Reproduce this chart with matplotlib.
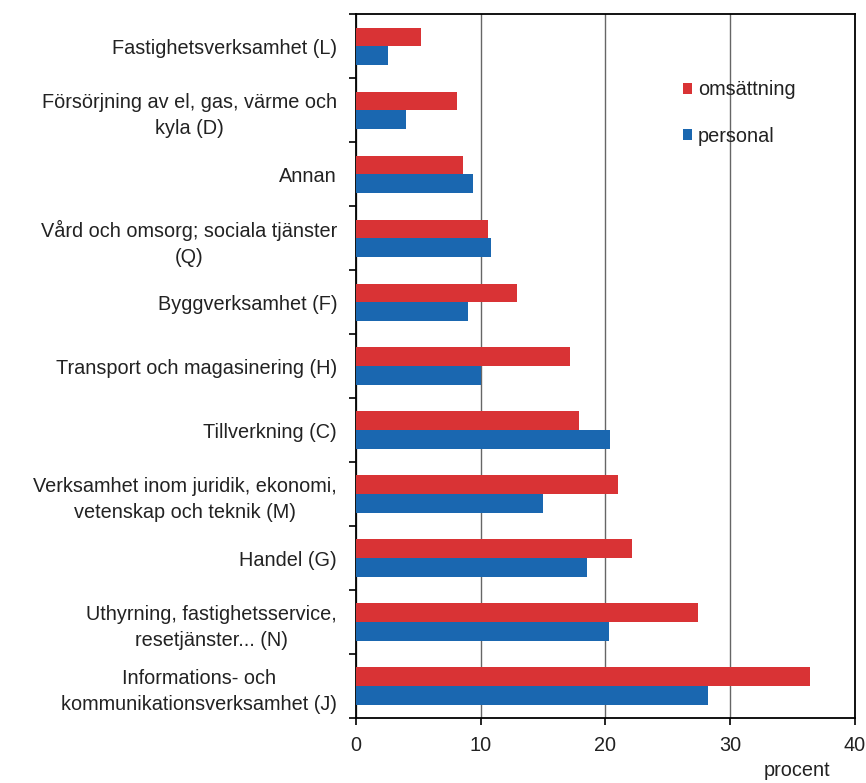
import matplotlib
matplotlib.use("Agg")
import matplotlib.pyplot as plt
import numpy as np

plt.rcParams['font.family'] = ['Liberation Sans', 'DejaVu Sans']

categories = [
    "Fastighetsverksamhet (L)",
    "Försörjning av el, gas, värme och\nkyla (D)",
    "Annan",
    "Vård och omsorg; sociala tjänster\n(Q)",
    "Byggverksamhet (F)",
    "Transport och magasinering (H)",
    "Tillverkning (C)",
    "Verksamhet inom juridik, ekonomi,\nvetenskap och teknik (M)",
    "Handel (G)",
    "Uthyrning, fastighetsservice,\nresetjänster... (N)",
    "Informations- och\nkommunikationsverksamhet (J)",
]
omsattning = [5.2, 8.1, 8.6, 10.6, 12.9, 17.2, 17.9, 21.0, 22.1, 27.4, 36.4]
personal = [2.6, 4.0, 9.4, 10.8, 9.0, 10.0, 20.4, 15.0, 18.5, 20.3, 28.2]
series_names = ["omsättning", "personal"]
xticks = [0, 10, 20, 30, 40]
red = "#D93335"
blue = "#1A67B0"
txt = "#222222"
fs = 14.3

fig = plt.figure(figsize=(8.66, 7.83), dpi=100)
ax = fig.add_axes([0.411, 0.083, 0.576, 0.899])

y = np.arange(len(categories))
h = 0.29
b1 = ax.barh(y - h/2, omsattning, height=h, color=red, label=series_names[0], zorder=3)
b2 = ax.barh(y + h/2, personal, height=h, color=blue, label=series_names[1], zorder=3)

ax.set_ylim(len(categories) - 0.5, -0.5)
ax.set_xlim(0, 40)
ax.set_xticks(xticks)
ax.set_yticks(y)
ax.set_yticklabels(categories, fontsize=fs, color=txt, ha="right", multialignment="center",
                   linespacing=1.45)
ax.tick_params(axis='y', which='major', length=0, pad=13.5)
ax.set_yticks(np.arange(-0.5, len(categories) + 0.5, 1), minor=True)
ax.tick_params(axis='y', which='minor', length=5, width=1.2, direction='out', color='black')
ax.tick_params(axis='x', which='major', length=5, width=1.2, direction='out', labelsize=fs, labelcolor=txt, pad=8)

ax.grid(axis='x', color='#666666', linewidth=1, zorder=0)
ax.grid(axis='y', visible=False)
for s in ax.spines.values():
    s.set_linewidth(1.3)
    s.set_color('black')

leg = ax.legend(handles=[b1, b2], loc='upper left', bbox_to_anchor=(0.655, 0.906), frameon=False,
                fontsize=fs, handlelength=0.46, handleheight=0.46, handletextpad=0.3,
                labelspacing=1.38, borderpad=0, borderaxespad=0, labelcolor=txt)

fig.text(797 / 866, 1 - 771 / 783, "procent", fontsize=fs, color=txt, ha="center", va="center")

fig.savefig("out.png", dpi=100)
